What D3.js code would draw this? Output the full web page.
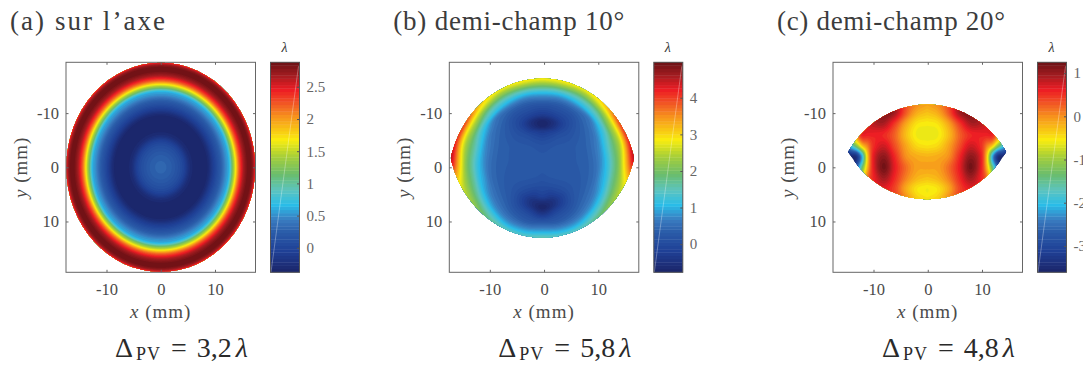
<!DOCTYPE html>
<html><head><meta charset="utf-8">
<script src="https://cdn.jsdelivr.net/npm/d3@7/dist/d3.min.js"></script>
<style>html,body{margin:0;padding:0;background:#fff;overflow:hidden}svg{display:block}text{font-family:"Liberation Serif",serif}</style>
</head><body><svg id="c" width="1083" height="365"></svg>
<script>
// ---- shared colour map (fraction of colour bar -> colour)
const cmapStops=[0,.04,.1,.19,.25,.32,.39,.465,.55,.63,.74,.8,.87,.94,1];
const cmapColors=["#1b2569","#1d2f7a","#1f4096","#2a5ba8","#3a7cc0","#29bce8","#5cc4c0","#6abd6e","#a6ce39","#f9ed0f","#f7941d","#f15a24","#ed1c24","#a01c20","#6b1015"];
const nLevels=64;
// ---- tick labels
const axisTicks=[-10,0,10];
const barTicksA=[0,.5,1,1.5,2,2.5];
const barTicksB=[0,1,2,3,4];
const barTicksC=[-3,-2,-1,0,1];
// ---- colour ranges
const rangeA=[-.38,2.88], rangeB=[-.77,4.97], rangeC=[-3.61,1.25];
// ---- pupil ellipse (semi axes, mm) and vignetting shifts of its centre along y
const pupil=[17.4,19.3];
const shiftsA=[0], shiftsB=[2.9,-6.3], shiftsC=[7.7,-13.4];
const pupilCx=[0,-.3,-.1];
// ---- panel (a): radial profile against normalised elliptical radius
const rhoA=[0,.08,.16,.24,.32,.4,.49,.55,.6,.65,.69,.725,.76,.795,.82,.85,.88,.936,.975,1,1.05];
const valA=[.3,.27,.17,0,-.3,-.36,-.34,-.1,.1,.3,.5,.65,1.2,1.7,2.1,2.42,2.68,2.88,2.75,2.45,2.2];
// ---- panel (b): values read along rays from the centre (angle from the top, radius in mm)
const centreB=[-.3,-.6];
const thetaB=[0,15,30,45,60,75,90,105,120,135,150,165,180];
const radB=[0,2,4,6,7,8,9,10,11,12,13,14,15,16,17,18,20];
const valB=[
[.28,.22,.08,-.3,-.72,-.7,-.3,-.05,.2,.55,1.0,1.65,2.4,3.0,3.4,3.8,4.6],
[.28,.23,.12,-.15,-.45,-.5,-.2,.02,.22,.5,.95,1.6,2.4,3.0,3.5,3.9,4.7],
[.28,.25,.2,.08,-.02,-.08,-.02,.1,.28,.55,1.05,1.6,2.3,2.95,3.5,4,4.8],
[.28,.26,.25,.2,.18,.2,.25,.33,.45,.62,1.2,1.75,2.55,3.2,4,4.5,5],
[.28,.27,.27,.28,.3,.33,.38,.48,.62,.95,1.4,2.1,2.8,3.8,4.6,4.9,5],
[.28,.28,.28,.3,.32,.36,.44,.58,.8,1.2,1.65,2.1,2.7,3.7,4.6,4.9,5],
[.28,.28,.28,.3,.32,.36,.44,.58,.85,1.2,1.65,2.1,2.85,3.7,4.5,4.8,5],
[.28,.28,.28,.28,.3,.34,.42,.55,.85,1.15,1.65,2.05,2.5,2.95,3.4,3.8,4.5],
[.28,.27,.25,.25,.26,.3,.38,.5,.68,1.0,1.45,1.95,2.35,2.7,3.0,3.3,4],
[.28,.26,.22,.15,.15,.2,.28,.4,.55,.8,1.25,1.7,2.15,2.5,2.8,3.1,3.6],
[.28,.25,.15,-.05,-.15,-.1,.05,.22,.4,.65,1.05,1.6,2,2.3,2.6,2.9,3.4],
[.28,.22,.08,-.25,-.48,-.45,-.15,.1,.3,.65,1.1,1.65,2,2.3,2.6,2.9,3.4],
[.28,.2,.05,-.2,-.55,-.74,-.45,-.05,.35,.75,1.25,1.8,2.3,2.7,3,3.2,3.6]];
// ---- panel (c): map read on a half grid (|x|, y in mm)
const xNodesC=[0,2,4,6,8,10,11,12,13,14,15,17];
const yNodesC=[-12,-10,-8,-6,-4,-2,0,2,4,6,8];
const valC=[
[-.05,.1,.4,1,1.15,1,1,.8,.5,.3,.2,.2],
[-.3,-.15,.3,.95,1.15,.95,.8,.6,.5,.3,.1,0],
[-.55,-.48,-.1,.45,.9,.85,.7,.55,.45,.2,-.1,-.2],
[-.62,-.58,-.25,.25,.55,.6,.6,.6,.2,-.3,-.8,-1.2],
[-.5,-.42,-.1,.35,.75,.5,.1,-.3,-1.1,-1.8,-2.3,-2.5],
[-.2,-.15,.02,.55,1.05,.6,-.35,-2.1,-3.3,-3.5,-3.6,-3.6],
[-.1,-.08,.2,.65,1.2,.6,-.2,-1.4,-2.6,-3.4,-3.6,-3.6],
[-.3,-.2,.1,.55,.95,.55,.2,-.6,-1.5,-2.5,-3,-3],
[-.58,-.48,-.12,.4,.65,.6,.5,.4,.2,0,-.2,-.4],
[-.45,-.3,.1,.5,.6,.6,.5,.4,.3,.2,.1,0],
[-.1,0,.3,.5,.6,.6,.5,.4,.3,.2,.1,0]];
const mirrorC=-.1;
// ---- texts
const titles=["(a) sur l\u2019axe","(b) demi-champ 10°","(c) demi-champ 20°"];
const titleWidths=[155,231,228];
const pvTexts=["3,2","5,8","4,8"];
const panelLeft=[66,449.3,833];

// ---- helpers
const cmapFn=d3.scaleLinear().domain(cmapStops).range(cmapColors).interpolate(d3.interpolateRgb);
function hermite(xs,ys,x){
  const n=xs.length;
  let i=Math.min(n-2,Math.max(0,d3.bisectRight(xs,x)-1));
  const t0=i>0?(ys[i+1]-ys[i-1])/(xs[i+1]-xs[i-1]):(ys[1]-ys[0])/(xs[1]-xs[0]);
  const t1=i<n-2?(ys[i+2]-ys[i])/(xs[i+2]-xs[i]):(ys[n-1]-ys[n-2])/(xs[n-1]-xs[n-2]);
  const h=xs[i+1]-xs[i],s=(x-xs[i])/h,s2=s*s,s3=s2*s;
  return (2*s3-3*s2+1)*ys[i]+(s3-2*s2+s)*h*t0+(-2*s3+3*s2)*ys[i+1]+(s3-s2)*h*t1;
}
const step=.125,xDom=[-17.47,17.47],yDom=[-19.38,19.38];
const nx=Math.ceil((xDom[1]-xDom[0])/step)+1,ny=Math.ceil((yDom[1]-yDom[0])/step)+1;
const sx=d3.range(nx).map(i=>xDom[0]+i*step),sy=d3.range(ny).map(j=>yDom[0]+j*step);
function sampleRadial(){
  const out=new Float64Array(nx*ny);
  for(let j=0;j<ny;j++)for(let i=0;i<nx;i++){
    const r=Math.hypot(sx[i]/pupil[0],sy[j]/pupil[1]);
    out[j*nx+i]=hermite(rhoA,valA,Math.min(1.05,r));
  }
  return out;
}
function samplePolar(){
  const out=new Float64Array(nx*ny);
  // repeat the first and last ray beyond the ends, the map being mirrored about its axis
  const th=[-15,...thetaB,195], tab=[valB[1],...valB,valB[valB.length-2]];
  const cols=radB.map((_,k)=>tab.map(r=>r[k]));
  const thetas=d3.range(0,181,1);
  const lookup=thetas.map(t=>cols.map(c=>hermite(th,c,t)));
  for(let j=0;j<ny;j++)for(let i=0;i<nx;i++){
    const dx=sx[i]-centreB[0],dy=sy[j]-centreB[1];
    const r=Math.min(radB[radB.length-1],Math.hypot(dx,dy));
    const t=Math.atan2(Math.abs(dx),-dy)*180/Math.PI;
    const t0=Math.min(179,Math.floor(t)),f=t-t0;
    out[j*nx+i]=hermite(radB,lookup[t0],r)*(1-f)+hermite(radB,lookup[t0+1],r)*f;
  }
  return out;
}
function sampleGrid(xn,yn,vals,mirror){
  const out=new Float64Array(nx*ny);
  const byCol=sx.map(x=>{
    const ax=Math.min(xn[xn.length-1],Math.abs(x-mirror));
    return vals.map(row=>hermite(xn,row,ax));
  });
  for(let i=0;i<nx;i++)for(let j=0;j<ny;j++){
    const y=Math.max(yn[0],Math.min(yn[yn.length-1],sy[j]));
    out[j*nx+i]=hermite(yn,byCol[i],y);
  }
  return out;
}
const svg=d3.select("#c");
const defs=svg.append("defs");
const axW=189.5,axTop=62.3,axBot=272.3,barGap=204.5,barW=29;
function panel(idx,field,range,barTicks,shifts){
  const L=panelLeft[idx];
  const x=d3.scaleLinear().domain(xDom).range([L,L+axW]);
  const y=d3.scaleLinear().domain(yDom).range([axTop,axBot]);
  const g=svg.append("g");
  const thr=d3.range(nLevels).map(k=>range[0]+(range[1]-range[0])*k/nLevels);
  const clamped=Float64Array.from(field,v=>Math.max(range[0]+1e-6,Math.min(range[1],v)));
  const contours=d3.contours().size([nx,ny]).smooth(true).thresholds(thr)(clamped);
  const proj=d3.geoTransform({point(px,py){this.stream.point(x(xDom[0]+(px-.5)*step),y(yDom[0]+(py-.5)*step));}});
  const path=d3.geoPath(proj);
  // the visible map is the intersection of the two shifted pupil ellipses
  let holder=g;
  shifts.forEach((s,k)=>{
    const id=`clip${idx}_${k}`;
    defs.append("clipPath").attr("id",id).append("ellipse")
      .attr("cx",x(pupilCx[idx])).attr("cy",y(s))
      .attr("rx",x(pupil[0])-x(0)).attr("ry",y(pupil[1])-y(0));
    holder=holder.append("g").attr("clip-path",`url(#${id})`);
  });
  holder.selectAll("path").data(contours).join("path")
    .attr("d",path).attr("fill",(d,k)=>cmapFn((k+.5)/nLevels));
  // frame and axes
  const frame="#666";
  g.append("rect").attr("x",L).attr("y",axTop).attr("width",axW).attr("height",axBot-axTop).attr("fill","none").attr("stroke",frame).attr("stroke-width",1);
  const style=(a)=>{a.select(".domain").remove();a.selectAll("line").attr("stroke",frame);
     a.selectAll("text").attr("fill","#4a4a4a").style("font-size","16.5px");};
  const fmt=d=>String(d);
  g.append("g").attr("transform",`translate(0,${axBot})`).call(d3.axisBottom(x).tickValues(axisTicks).tickSize(-2.5).tickPadding(11).tickFormat(fmt)).call(style);
  g.append("g").attr("transform",`translate(0,${axTop})`).call(d3.axisTop(x).tickValues(axisTicks).tickSize(-2.5).tickFormat("")).call(style);
  g.append("g").attr("transform",`translate(${L},0)`).call(d3.axisLeft(y).tickValues(axisTicks).tickSize(-2.5).tickPadding(7).tickFormat(fmt)).call(style);
  g.append("g").attr("transform",`translate(${L+axW},0)`).call(d3.axisRight(y).tickValues(axisTicks).tickSize(-2.5).tickFormat("")).call(style);
  // axis labels
  const cx=L+axW/2;
  const xl=g.append("text").attr("x",cx).attr("y",318).attr("text-anchor","middle").attr("fill","#4a4a4a").style("font-size","19px").attr("letter-spacing","1px");
  xl.append("tspan").attr("font-style","italic").text("x");xl.append("tspan").text(" (mm)");
  const yl=g.append("text").attr("transform",`translate(${L-39},167.3) rotate(-90)`).attr("text-anchor","middle").attr("fill","#4a4a4a").style("font-size","19px").attr("letter-spacing","1px");
  yl.append("tspan").attr("font-style","italic").text("y");yl.append("tspan").text(" (mm)");
  // title
  g.append("text").attr("x",L-56).attr("y",30).attr("fill","#3c3c3c").style("font-size","27px")
    .attr("textLength",titleWidths[idx]).attr("lengthAdjust","spacing").text(titles[idx]);
  // delta
  const dt=g.append("text").attr("x",L+49).attr("y",357).attr("fill","#2a2a2a").style("font-size","28px");
  dt.append("tspan").text("\u0394");
  dt.append("tspan").attr("dy",3).attr("dx",3).style("font-size","18px").attr("letter-spacing","1px").text("PV");
  dt.append("tspan").attr("dy",-3).attr("dx",10).text("=");
  dt.append("tspan").attr("dx",10).text(pvTexts[idx]);
  dt.append("tspan").attr("dx",4).attr("font-style","italic").text("\u03bb");
  // colour bar
  const bL=L+barGap;
  const by=d3.scaleLinear().domain(range).range([axBot,axTop]);
  const levels=d3.range(nLevels);
  const band=d3.scaleBand().domain(levels).range([axBot,axTop]);
  g.append("g").selectAll("rect").data(levels).join("rect").attr("x",bL).attr("width",barW)
    .attr("y",k=>band(k)-.2).attr("height",band.bandwidth()+.4).attr("fill",k=>cmapFn((k+.5)/nLevels));
  g.append("line").attr("x1",bL+.5).attr("y1",axBot).attr("x2",bL+barW-1).attr("y2",axTop+4).attr("stroke","#fff").attr("stroke-opacity",.45).attr("stroke-width",.7);
  g.append("rect").attr("x",bL).attr("y",axTop).attr("width",barW).attr("height",axBot-axTop).attr("fill","none").attr("stroke","#555").attr("stroke-width",1);
  g.append("g").attr("transform",`translate(${bL+barW},0)`).call(d3.axisRight(by).tickValues(barTicks).tickSize(-2.5).tickPadding(7).tickFormat(fmt))
    .call(a=>{a.select(".domain").remove();a.selectAll("line").attr("stroke","#555");a.selectAll("text").attr("fill","#666").style("font-size","15px");});
  g.append("text").attr("x",bL+barW/2-.5).attr("y",52).attr("text-anchor","middle").attr("font-style","italic").attr("fill","#333").style("font-size","14px").text("\u03bb");
}
panel(0,sampleRadial(),rangeA,barTicksA,shiftsA);
panel(1,samplePolar(),rangeB,barTicksB,shiftsB);
panel(2,sampleGrid(xNodesC,yNodesC,valC,mirrorC),rangeC,barTicksC,shiftsC);
</script></body></html>
